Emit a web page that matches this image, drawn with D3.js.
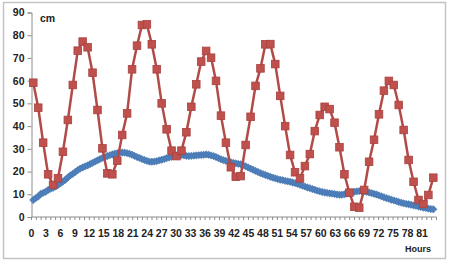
<!DOCTYPE html>
<html>
<head>
<meta charset="utf-8">
<script src="https://cdn.jsdelivr.net/npm/d3@7"></script>
<style>
  html, body { margin: 0; padding: 0; background: #fff; }
  svg { display: block; font-family: "Liberation Sans", Arial, sans-serif; }
</style>
</head>
<body>
<svg id="chart" width="450" height="262"></svg>
<script>
// ---- data ----
const xTickLabels = d3.range(0, 82, 3);           // 0,3,...,81 (hours)
const yTickLabels = [0, 10, 20, 30, 40, 50, 60, 70, 80, 90];
const redValues = [59.1, 48.1, 32.7, 18.8, 14.1, 17.0, 28.7, 42.7, 58.1, 73.2,
  77.2, 74.7, 63.5, 47.1, 30.2, 19.2, 18.8, 24.8, 36.1, 45.6,
  65.0, 75.4, 84.5, 84.8, 76.0, 65.0, 50.0, 38.6, 29.2, 26.8,
  29.2, 37.3, 48.5, 58.4, 68.4, 73.1, 70.1, 59.9, 44.6, 32.7,
  21.9, 17.7, 18.0, 31.7, 44.1, 57.7, 65.4, 76.0, 76.1, 67.3,
  53.3, 40.0, 27.3, 19.7, 17.0, 22.4, 27.7, 37.8, 44.9, 48.5,
  47.5, 41.5, 30.7, 18.8, 10.7, 4.5, 4.1, 11.9, 24.3, 34.0,
  45.2, 55.6, 59.9, 58.1, 49.3, 38.3, 25.1, 15.5, 7.5, 5.7,
  9.7, 17.3];
const blueValues = [7.5, 8.3, 9.0, 10.2, 10.6, 11.1, 11.9, 12.4, 12.8, 13.4,
  14.0, 14.8, 15.6, 16.4, 17.4, 18.3, 19.0, 19.8, 20.6, 21.3,
  21.8, 22.3, 22.7, 23.3, 23.8, 24.4, 24.9, 25.5, 26.0, 26.4,
  26.8, 27.2, 27.5, 27.9, 28.1, 28.3, 28.4, 28.3, 28.1, 27.8,
  27.4, 26.9, 26.4, 26.0, 25.5, 25.1, 24.7, 24.4, 24.3, 24.4,
  24.6, 24.9, 25.2, 25.5, 25.9, 26.2, 26.5, 26.8, 27.1, 27.3,
  27.3, 27.1, 26.9, 26.8, 26.9, 27.0, 27.1, 27.2, 27.3, 27.4,
  27.5, 27.4, 27.1, 26.8, 26.4, 25.9, 25.4, 25.0, 24.7, 24.4,
  24.1, 23.8, 23.6, 23.4, 23.2, 22.8, 22.3, 21.8, 21.3, 20.8,
  20.3, 19.8, 19.3, 18.9, 18.5, 18.1, 17.7, 17.3, 17.0, 16.7,
  16.4, 16.2, 15.9, 15.7, 15.5, 15.2, 14.9, 14.6, 14.2, 13.8,
  13.4, 13.0, 12.7, 12.3, 12.0, 11.6, 11.3, 11.0, 10.8, 10.6,
  10.4, 10.3, 10.1, 9.9, 9.8, 9.8, 10.0, 10.3, 10.6, 10.9,
  11.1, 11.3, 11.4, 11.4, 11.3, 11.1, 10.8, 10.5, 10.2, 9.9,
  9.5, 9.1, 8.7, 8.3, 8.0, 7.6, 7.3, 7.0, 6.6, 6.3,
  6.0, 5.8, 5.6, 5.4, 5.1, 4.9, 4.6, 4.4, 4.1, 3.9,
  3.7, 3.5, 3.4];
const redSteps = d3.range(redValues.length);                  // sample index
const blueSteps = d3.range(blueValues.length).map(i => i / 2); // half-step samples
const yUnit = "cm";
const xUnit = "Hours";

// ---- drawing ----
const svg = d3.select("#chart");
const font = "\"Liberation Sans\", Arial, sans-serif";

// outer frame
svg.append("rect").attr("x", 3.5).attr("y", 2.5).attr("width", 442).attr("height", 256)
  .attr("fill", "#fff").attr("stroke", "#c4c4c4").attr("stroke-width", 1.5);

const y = d3.scaleLinear().domain([0, 90]).range([217, 12.5]);
const xAxisScale = d3.scaleLinear().domain([0, 81]).range([31.5, 422]);
const xs = d3.scaleLinear().domain([0, 81]).range([33.3, 433.3]);

// y axis
const yAxis = d3.axisLeft(y).tickValues(yTickLabels).tickSize(4).tickPadding(3);
const gy = svg.append("g").attr("transform", "translate(31.5,0)").call(yAxis);
gy.select(".domain").attr("stroke", "#8c8c8c");
gy.selectAll(".tick line").attr("stroke", "#8c8c8c");
gy.selectAll("text").attr("font-family", font).attr("font-size", 10.5)
  .attr("font-weight", "bold").attr("fill", "#222");

// x axis: minor ticks every hour, labels every 3 hours
const gx = svg.append("g").attr("transform", "translate(0,217)");
gx.append("line").attr("x1", 31.5).attr("x2", xAxisScale(84)).attr("y1", 0).attr("y2", 0)
  .attr("stroke", "#8c8c8c");
gx.selectAll("line.tk").data(d3.range(0, 85)).join("line").attr("class", "tk")
  .attr("x1", d => xAxisScale(d)).attr("x2", d => xAxisScale(d))
  .attr("y1", 0).attr("y2", 3).attr("stroke", "#8c8c8c");
gx.selectAll("text").data(xTickLabels).join("text")
  .attr("x", d => xAxisScale(d)).attr("y", 20)
  .attr("text-anchor", "middle").attr("font-family", font).attr("font-size", 10.5)
  .attr("font-weight", "bold").attr("fill", "#222").text(d => d);

// unit labels
svg.append("text").attr("x", 40).attr("y", 22).attr("font-family", font)
  .attr("font-size", 10.5).attr("font-weight", "bold").attr("fill", "#222").text(yUnit);
svg.append("text").attr("x", 405).attr("y", 252).attr("font-family", font)
  .attr("font-size", 9).attr("font-weight", "bold").attr("fill", "#222").text(xUnit);

// blue series (diamonds)
const blue = blueSteps.map((s, i) => [s, blueValues[i]]);
svg.append("path").datum(blue)
  .attr("d", d3.line().x(d => xs(d[0])).y(d => y(d[1])))
  .attr("fill", "none").attr("stroke", "#4a7ebb").attr("stroke-width", 2);
svg.append("g").selectAll("path").data(blue).join("path")
  .attr("transform", d => `translate(${xs(d[0])},${y(d[1])}) rotate(45)`)
  .attr("d", "M-2.6,-2.6H2.6V2.6H-2.6Z")
  .attr("fill", "#4f81bd").attr("stroke", "#3f6fa8").attr("stroke-width", 0.5);

// red series (squares)
const red = redSteps.map((s, i) => [s, redValues[i]]);
svg.append("path").datum(red)
  .attr("d", d3.line().x(d => xs(d[0])).y(d => y(d[1])))
  .attr("fill", "none").attr("stroke", "#b24b48").attr("stroke-width", 2.5);
svg.append("g").selectAll("rect").data(red).join("rect")
  .attr("x", d => xs(d[0]) - 3.8).attr("y", d => y(d[1]) - 3.8)
  .attr("width", 7.6).attr("height", 7.6)
  .attr("fill", "#c0504d").attr("stroke", "#a8423f").attr("stroke-width", 0.8);
</script>
</body>
</html>
